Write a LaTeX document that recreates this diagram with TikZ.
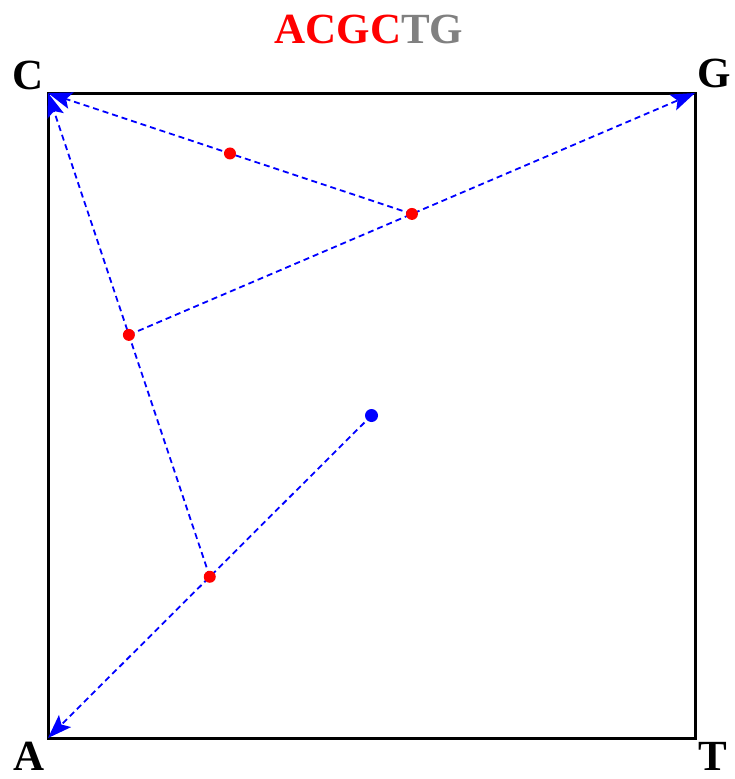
\documentclass[tikz,border=0pt]{standalone}
\usepackage{fontspec}
\setmainfont{Liberation Serif}
\usetikzlibrary{arrows.meta,calc}
\definecolor{titlegray}{RGB}{128,128,128}
\tikzset{
  lbl/.style={font=\fontsize{43}{43}\selectfont\bfseries, inner sep=0pt, anchor=base},
  move/.style={blue, dash pattern=on 6pt off 4pt, line width=1.8pt, -{Stealth[length=24pt,width=17pt,inset=5pt]}},
  rdot/.style={circle, fill=red, inner sep=0pt, minimum size=12pt},
  bdot/.style={circle, fill=blue, inner sep=0pt, minimum size=13pt},
  frame/.style={line width=3pt}
}
\begin{document}
\begin{tikzpicture}[x=1pt,y=-1pt]
\useasboundingbox (0,0) rectangle (734,779);
\coordinate (C) at (48,93);
\coordinate (G) at (695,93);
\coordinate (A) at (48,738);
\coordinate (T) at (695,738);
\draw[frame] (C) -- (G) -- (T) -- (A) -- cycle;
\node[lbl] (lC) at (28,89) {C};
\node[lbl] (lG) at (714,87) {G};
\node[lbl] (lA) at (29,770) {A};
\node[lbl] (lT) at (713,770) {T};
\node[lbl] (title) at (369,43) {\textcolor{red}{ACGC}\textcolor{titlegray}{TG}};
\coordinate (p0) at (371.5,415.5);
\coordinate (p1) at ($(p0)!0.5!(A)$);
\coordinate (p2) at ($(p1)!0.5!(C)$);
\coordinate (p3) at ($(p2)!0.5!(G)$);
\coordinate (p4) at ($(p3)!0.5!(C)$);
\draw[move] (p0) -- (A);
\draw[move] (p1) -- (C);
\draw[move] (p2) -- (G);
\draw[move] (p3) -- (C);
\node[bdot] (d0) at (p0) {};
\node[rdot] (d1) at (p1) {};
\node[rdot] (d2) at (p2) {};
\node[rdot] (d3) at (p3) {};
\node[rdot] (d4) at (p4) {};
\end{tikzpicture}
\end{document}
